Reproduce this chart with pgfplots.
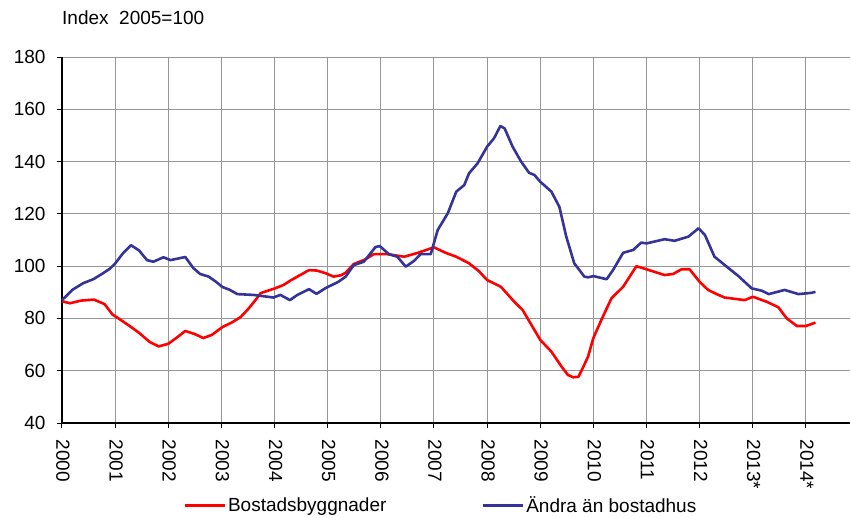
\documentclass[border=0pt]{standalone}
\usepackage{fontspec}
\setmainfont{Liberation Sans}
\usepackage{pgfplots}
\pgfplotsset{compat=1.18}
\definecolor{rd}{RGB}{255,0,0}
\definecolor{bl}{RGB}{51,51,153}
\definecolor{gr}{RGB}{150,150,150}
\begin{document}
\begin{tikzpicture}[x=1pt,y=1pt]
\useasboundingbox (-62,-94) rectangle (789,423);
\begin{axis}[
 at={(0,0)}, anchor=south west,
 scale only axis, width=788pt, height=366pt,
 xmin=2000, xmax=2014.83, ymin=40, ymax=180,
 axis lines=left, axis line style={-, black, line width=1.2pt},
 xtick={2000,2001,...,2014},
 xticklabels={2000,2001,2002,2003,2004,2005,2006,2007,2008,2009,2010,2011,2012,2013*,2014*},
 ytick={40,60,...,180},
 grid=major, major grid style={gr, line width=1pt},
 tick align=outside, major tick length=5pt, tick style={black, line width=1pt},
 ticklabel style={font=\fontsize{19}{22}\selectfont},
 /pgf/number format/assume math mode=true,
 yticklabel style={/pgf/number format/1000 sep={}, xshift=-8pt},
 xticklabel style={rotate=-90, anchor=west, xshift=8pt, yshift=1pt},
 legend columns=2,
 legend style={draw=none, fill=none, at={(0.1536,-0.226)}, anchor=west, inner sep=0pt,
   font=\fontsize{19}{22}\selectfont,
   /tikz/every even column/.append style={column sep=93pt}},
 legend image code/.code={\draw[#1, line width=2.8pt] (0pt,0pt) -- (40pt,0pt);},
 clip=false,
]
\addplot[rd, line width=2.6pt, line join=round] coordinates {
(2000.00,86.6) (2000.15,85.8) (2000.35,86.8) (2000.6,87.2) (2000.8,85.5) (2000.95,81.5)
(2001.1,79.5) (2001.28,77) (2001.45,74.5) (2001.65,71) (2001.82,69.3) (2002.0,70.3)
(2002.15,72.5) (2002.32,75.2) (2002.5,74) (2002.66,72.5) (2002.82,73.7) (2003.02,76.7)
(2003.2,78.5) (2003.36,80.5) (2003.5,83.5) (2003.64,87) (2003.74,89.7) (2004.02,91.6)
(2004.17,92.8) (2004.3,94.5) (2004.43,96) (2004.65,98.5) (2004.8,98.3) (2004.96,97.3)
(2005.11,96) (2005.25,96.5) (2005.34,97.5) (2005.49,100.8) (2005.7,102.5) (2005.87,104.6)
(2006.12,104.6) (2006.44,103.6) (2006.7,105.1) (2007.0,107.2) (2007.22,105.1) (2007.42,103.6)
(2007.66,101.1) (2007.85,98) (2008.0,94.7) (2008.26,92.1) (2008.51,86.4) (2008.67,83.2)
(2008.89,75.6) (2009.0,71.8) (2009.21,67.3) (2009.4,61.6) (2009.52,58.4) (2009.62,57.5)
(2009.72,57.7) (2009.8,61) (2009.9,65.4) (2010.0,72.5) (2010.15,79.4) (2010.34,87.7)
(2010.56,92.1) (2010.81,100) (2011.0,98.8) (2011.34,96.6) (2011.5,97) (2011.66,98.8)
(2011.81,98.8) (2012.0,94) (2012.16,90.9) (2012.32,89.3) (2012.47,88) (2012.85,87)
(2013.0,88.3) (2013.26,86.4) (2013.48,84.3) (2013.64,80) (2013.83,77.1) (2014.0,77.1)
(2014.18,78.4)
};
\addlegendentry{Bostadsbyggnader}
\addplot[bl, line width=2.6pt, line join=round] coordinates {
(2000.0,87) (2000.2,91) (2000.4,93.5) (2000.59,95) (2000.75,97) (2000.9,99) (2001.0,101)
(2001.15,105) (2001.3,108) (2001.45,106) (2001.6,102.3) (2001.72,101.7) (2001.91,103.4)
(2002.04,102.3) (2002.32,103.5) (2002.47,99.3) (2002.6,97) (2002.76,96) (2002.9,94)
(2003.02,92) (2003.15,91) (2003.3,89.3) (2003.6,89) (2003.98,88) (2004.11,89) (2004.29,87)
(2004.43,89) (2004.65,91.2) (2004.79,89.4) (2004.96,91.6) (2005.1,93) (2005.2,94)
(2005.34,96) (2005.49,100.4) (2005.68,101.7) (2005.9,107.3) (2005.98,107.7) (2006.15,104.6)
(2006.31,103.6) (2006.47,99.8) (2006.63,102.1) (2006.75,104.6) (2006.94,104.6) (2007.07,113.8)
(2007.26,120.2) (2007.42,128.5) (2007.57,131) (2007.66,135.5) (2007.82,139.3) (2008.0,145.7)
(2008.13,148.9) (2008.25,153.6) (2008.33,152.7) (2008.48,145.7) (2008.64,140) (2008.79,135.7)
(2008.89,134.9) (2009.0,132.3) (2009.21,128.5) (2009.36,122.7) (2009.49,111.3) (2009.64,101.1)
(2009.83,96) (2009.9,95.7) (2010.0,96.2) (2010.25,95) (2010.37,98.5) (2010.56,105.1)
(2010.75,106.2) (2010.9,109) (2011.0,108.7) (2011.34,110.3) (2011.53,109.7) (2011.79,111.3)
(2011.98,114.5) (2012.1,111.9) (2012.28,103.6) (2012.51,99.8) (2012.73,96.2) (2012.98,91.5)
(2013.17,90.6) (2013.3,89.3) (2013.6,90.9) (2013.86,89.3) (2014.11,89.8) (2014.18,90.2)
};
\addlegendentry{Ändra än bostadhus}
\node[anchor=west, inner sep=0pt, font=\fontsize{19}{22}\selectfont] at ([yshift=39pt]rel axis cs:0,1) {Index\ \ 2005=100};
\end{axis}
\end{tikzpicture}
\end{document}
